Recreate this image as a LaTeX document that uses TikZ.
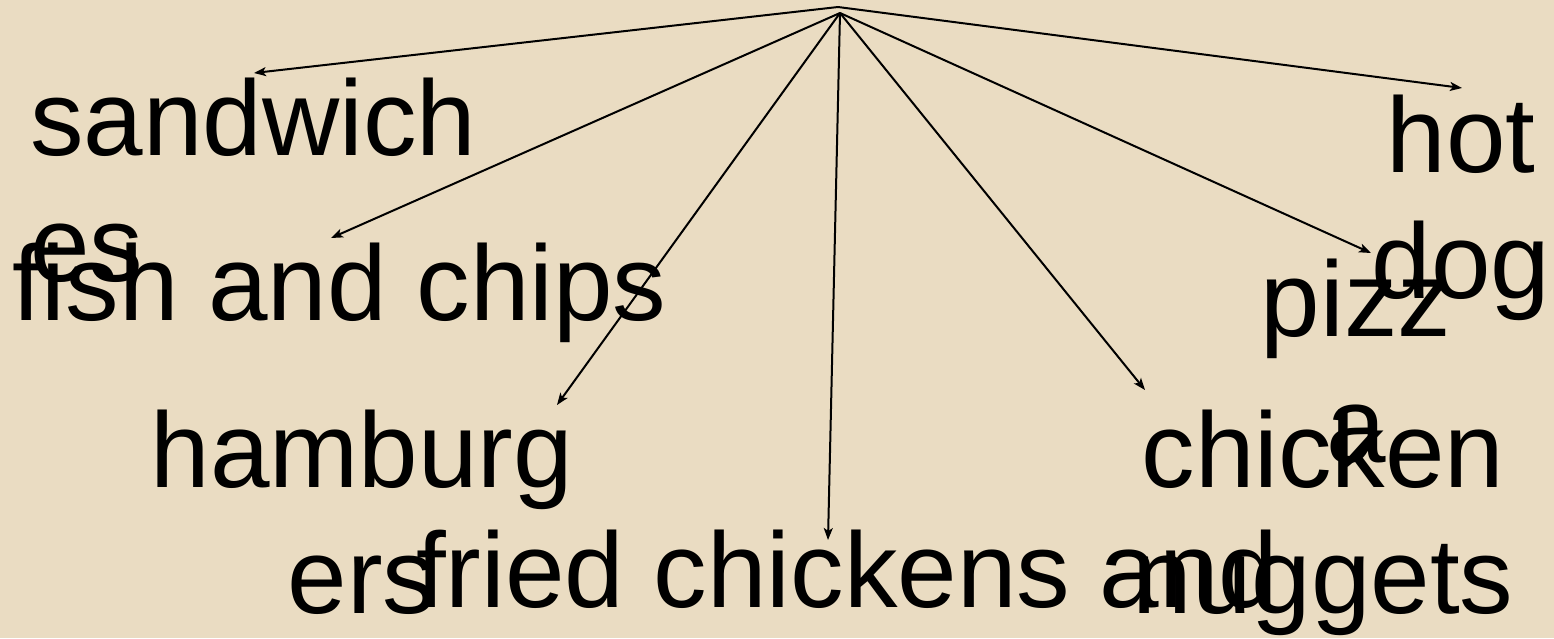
\documentclass[tikz,border=0pt]{standalone}
\usepackage{fontspec}
\setmainfont{Liberation Sans}
\usetikzlibrary{arrows.meta}
\definecolor{bgc}{RGB}{234,220,194}
\begin{document}
\begin{tikzpicture}[x=1pt,y=-1pt,
  lbl/.style={inner sep=0pt,font=\fontsize{107}{126}\selectfont,text=black},
  lblL/.style={lbl,align=left,anchor=base west},
  lblC/.style={lbl,align=center,anchor=base},
  conn/.style={line width=2pt,-{Stealth[length=12pt,width=9pt,inset=3pt]}}]
\fill[bgc] (0,0) rectangle (1554,638);
\useasboundingbox (0,0) rectangle (1554,638);
% labels (base anchor = baseline of last line)
\node[lblL] (sand) at (30,281) {sandwich\\es};
\node[lblL] (fish) at (12,320) {fish and chips};
\node[lblC] (ham) at (362,613) {hamburg\\ers};
\node[lblL] (fried) at (416,607) {fried chickens and};
\node[lblC] (hot) at (1461,298) {hot\\dog};
\node[lblC] (pizza) at (1356,462) {pizz\\a};
\node[lblC] (nug) at (1323,613) {chicken\\nuggets};
% hub and tips
\coordinate (hubA) at (838,7);
\coordinate (hubB) at (840,13);
\coordinate (tSand) at (254,73);
\coordinate (tHot) at (1462,88);
\coordinate (tFish) at (331,238);
\coordinate (tPizza) at (1371,253);
\coordinate (tHam) at (557,405);
\coordinate (tNug) at (1145,390);
\coordinate (tFried) at (828,540);
\draw[conn] (hubA) -- (tSand);
\draw[conn] (hubA) -- (tHot);
\draw[conn] (hubB) -- (tFish);
\draw[conn] (hubB) -- (tPizza);
\draw[conn] (hubB) -- (tHam);
\draw[conn] (hubB) -- (tNug);
\draw[conn] (hubB) -- (tFried);
\end{tikzpicture}
\end{document}
